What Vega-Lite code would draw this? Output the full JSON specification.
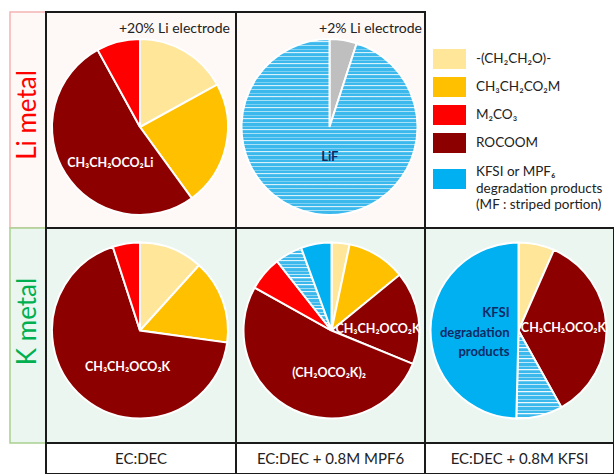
{
  "$schema": "https://vega.github.io/schema/vega-lite/v6.json",
  "padding": {"left": 9, "top": 11, "right": 0, "bottom": 0},
  "background": "white",
  "config": {"font": "Lato", "view": {"stroke": null}, "concat": {"spacing": 0}},
  "columns": 4,
  "spacing": 0,
  "bounds": "flush",
  "align": "each",
  "concat": [
        {
          "width": 36, "height": 216,
          "view": {"fill": "#FEF8F7", "stroke": "#F4B4B4", "strokeWidth": 1.5},
          "data": {"values": [{"row": "Li metal"}]},
          "mark": {"type": "text", "angle": 270, "fontSize": 26, "color": "#FF0000", "yOffset": -5},
          "encoding": {"text": {"field": "row", "type": "nominal"}}
        },
        {
          "width": 190, "height": 216,
          "view": {"fill": "#FEF8F7", "stroke": "#1a1a1a", "strokeWidth": 2},
          "title": {"text": "+20% Li electrode", "anchor": "end", "offset": -24, "dx": -6, "fontSize": 14, "fontWeight": "normal", "color": "#222222"},
          "data": {"values": [
            {"species": "-(CH₂CH₂O)-", "share": 17, "idx": 1, "mf": false, "label": ""},
            {"species": "CH₃CH₂CO₂M", "share": 23, "idx": 2, "mf": false, "label": ""},
            {"species": "ROCOOM", "share": 52, "idx": 3, "mf": false, "label": "CH₃CH₂OCO₂Li"},
            {"species": "M₂CO₃", "share": 8, "idx": 4, "mf": false, "label": ""}
          ]},
          "encoding": {
            "theta": {"field": "share", "type": "quantitative", "stack": true},
            "order": {"field": "idx", "type": "quantitative"}
          },
          "layer": [
            {
              "mark": {"type": "arc", "radius": 88, "stroke": "white", "strokeWidth": 2, "yOffset": 7, "xOffset": -1},
              "encoding": {"color": {"field": "species", "type": "nominal", "legend": null,
                "scale": {"domain": ["-(CH₂CH₂O)-", "CH₃CH₂CO₂M", "M₂CO₃", "ROCOOM", "KFSI or MPF₆ degradation products", "other"], "range": ["#FFE699", "#FFC000", "#FF0000", "#8C0000", "#00B0F0", "#BFBFBF"]}}}
            },
            {
              "mark": {"type": "text", "radius": 47, "yOffset": 7, "xOffset": -1, "dx": 10, "dy": 11, "fontWeight": "bold", "fontSize": 12.5, "color": "white"},
              "encoding": {"text": {"field": "label", "type": "nominal"}}
            }
          ]
        },
        {
          "width": 189, "height": 216,
          "view": {"fill": "#FEF8F7", "stroke": "#1a1a1a", "strokeWidth": 2},
          "title": {"text": "+2% Li electrode", "anchor": "end", "offset": -24, "dx": -3, "fontSize": 14, "fontWeight": "normal", "color": "#222222"},
          "data": {"values": [
            {"species": "other", "share": 5, "idx": 1, "mf": false, "label": ""},
            {"species": "KFSI or MPF₆ degradation products", "share": 95, "idx": 2, "mf": true, "label": "LiF"}
          ]},
          "encoding": {
            "theta": {"field": "share", "type": "quantitative", "stack": true},
            "order": {"field": "idx", "type": "quantitative"}
          },
          "layer": [
            {
              "mark": {"type": "arc", "radius": 88, "stroke": "white", "strokeWidth": 2, "yOffset": 7, "xOffset": -1},
              "encoding": {"color": {
                "condition": {"test": "datum.mf", "value": {"gradient": "linear", "x1": 0, "y1": 0, "x2": 0, "y2": 1, "stops": [
                  {"offset": 0, "color": "#3CB9EC"}, {"offset": 0.0125, "color": "#3CB9EC"}, {"offset": 0.0125, "color": "#FFFFFF"},
                  {"offset": 0.0208, "color": "#3CB9EC"}, {"offset": 0.0333, "color": "#3CB9EC"}, {"offset": 0.0333, "color": "#FFFFFF"},
                  {"offset": 0.0417, "color": "#3CB9EC"}, {"offset": 0.0542, "color": "#3CB9EC"}, {"offset": 0.0542, "color": "#FFFFFF"},
                  {"offset": 0.0625, "color": "#3CB9EC"}, {"offset": 0.075, "color": "#3CB9EC"}, {"offset": 0.075, "color": "#FFFFFF"},
                  {"offset": 0.0833, "color": "#3CB9EC"}, {"offset": 0.0958, "color": "#3CB9EC"}, {"offset": 0.0958, "color": "#FFFFFF"},
                  {"offset": 0.1042, "color": "#3CB9EC"}, {"offset": 0.1167, "color": "#3CB9EC"}, {"offset": 0.1167, "color": "#FFFFFF"},
                  {"offset": 0.125, "color": "#3CB9EC"}, {"offset": 0.1375, "color": "#3CB9EC"}, {"offset": 0.1375, "color": "#FFFFFF"},
                  {"offset": 0.1458, "color": "#3CB9EC"}, {"offset": 0.1583, "color": "#3CB9EC"}, {"offset": 0.1583, "color": "#FFFFFF"},
                  {"offset": 0.1667, "color": "#3CB9EC"}, {"offset": 0.1792, "color": "#3CB9EC"}, {"offset": 0.1792, "color": "#FFFFFF"},
                  {"offset": 0.1875, "color": "#3CB9EC"}, {"offset": 0.2, "color": "#3CB9EC"}, {"offset": 0.2, "color": "#FFFFFF"},
                  {"offset": 0.2083, "color": "#3CB9EC"}, {"offset": 0.2208, "color": "#3CB9EC"}, {"offset": 0.2208, "color": "#FFFFFF"},
                  {"offset": 0.2292, "color": "#3CB9EC"}, {"offset": 0.2417, "color": "#3CB9EC"}, {"offset": 0.2417, "color": "#FFFFFF"},
                  {"offset": 0.25, "color": "#3CB9EC"}, {"offset": 0.2625, "color": "#3CB9EC"}, {"offset": 0.2625, "color": "#FFFFFF"},
                  {"offset": 0.2708, "color": "#3CB9EC"}, {"offset": 0.2833, "color": "#3CB9EC"}, {"offset": 0.2833, "color": "#FFFFFF"},
                  {"offset": 0.2917, "color": "#3CB9EC"}, {"offset": 0.3042, "color": "#3CB9EC"}, {"offset": 0.3042, "color": "#FFFFFF"},
                  {"offset": 0.3125, "color": "#3CB9EC"}, {"offset": 0.325, "color": "#3CB9EC"}, {"offset": 0.325, "color": "#FFFFFF"},
                  {"offset": 0.3333, "color": "#3CB9EC"}, {"offset": 0.3458, "color": "#3CB9EC"}, {"offset": 0.3458, "color": "#FFFFFF"},
                  {"offset": 0.3542, "color": "#3CB9EC"}, {"offset": 0.3667, "color": "#3CB9EC"}, {"offset": 0.3667, "color": "#FFFFFF"},
                  {"offset": 0.375, "color": "#3CB9EC"}, {"offset": 0.3875, "color": "#3CB9EC"}, {"offset": 0.3875, "color": "#FFFFFF"},
                  {"offset": 0.3958, "color": "#3CB9EC"}, {"offset": 0.4083, "color": "#3CB9EC"}, {"offset": 0.4083, "color": "#FFFFFF"},
                  {"offset": 0.4167, "color": "#3CB9EC"}, {"offset": 0.4292, "color": "#3CB9EC"}, {"offset": 0.4292, "color": "#FFFFFF"},
                  {"offset": 0.4375, "color": "#3CB9EC"}, {"offset": 0.45, "color": "#3CB9EC"}, {"offset": 0.45, "color": "#FFFFFF"},
                  {"offset": 0.4583, "color": "#3CB9EC"}, {"offset": 0.4708, "color": "#3CB9EC"}, {"offset": 0.4708, "color": "#FFFFFF"},
                  {"offset": 0.4792, "color": "#3CB9EC"}, {"offset": 0.4917, "color": "#3CB9EC"}, {"offset": 0.4917, "color": "#FFFFFF"},
                  {"offset": 0.5, "color": "#3CB9EC"}, {"offset": 0.5125, "color": "#3CB9EC"}, {"offset": 0.5125, "color": "#FFFFFF"},
                  {"offset": 0.5208, "color": "#3CB9EC"}, {"offset": 0.5333, "color": "#3CB9EC"}, {"offset": 0.5333, "color": "#FFFFFF"},
                  {"offset": 0.5417, "color": "#3CB9EC"}, {"offset": 0.5542, "color": "#3CB9EC"}, {"offset": 0.5542, "color": "#FFFFFF"},
                  {"offset": 0.5625, "color": "#3CB9EC"}, {"offset": 0.575, "color": "#3CB9EC"}, {"offset": 0.575, "color": "#FFFFFF"},
                  {"offset": 0.5833, "color": "#3CB9EC"}, {"offset": 0.5958, "color": "#3CB9EC"}, {"offset": 0.5958, "color": "#FFFFFF"},
                  {"offset": 0.6042, "color": "#3CB9EC"}, {"offset": 0.6167, "color": "#3CB9EC"}, {"offset": 0.6167, "color": "#FFFFFF"},
                  {"offset": 0.625, "color": "#3CB9EC"}, {"offset": 0.6375, "color": "#3CB9EC"}, {"offset": 0.6375, "color": "#FFFFFF"},
                  {"offset": 0.6458, "color": "#3CB9EC"}, {"offset": 0.6583, "color": "#3CB9EC"}, {"offset": 0.6583, "color": "#FFFFFF"},
                  {"offset": 0.6667, "color": "#3CB9EC"}, {"offset": 0.6792, "color": "#3CB9EC"}, {"offset": 0.6792, "color": "#FFFFFF"},
                  {"offset": 0.6875, "color": "#3CB9EC"}, {"offset": 0.7, "color": "#3CB9EC"}, {"offset": 0.7, "color": "#FFFFFF"},
                  {"offset": 0.7083, "color": "#3CB9EC"}, {"offset": 0.7208, "color": "#3CB9EC"}, {"offset": 0.7208, "color": "#FFFFFF"},
                  {"offset": 0.7292, "color": "#3CB9EC"}, {"offset": 0.7417, "color": "#3CB9EC"}, {"offset": 0.7417, "color": "#FFFFFF"},
                  {"offset": 0.75, "color": "#3CB9EC"}, {"offset": 0.7625, "color": "#3CB9EC"}, {"offset": 0.7625, "color": "#FFFFFF"},
                  {"offset": 0.7708, "color": "#3CB9EC"}, {"offset": 0.7833, "color": "#3CB9EC"}, {"offset": 0.7833, "color": "#FFFFFF"},
                  {"offset": 0.7917, "color": "#3CB9EC"}, {"offset": 0.8042, "color": "#3CB9EC"}, {"offset": 0.8042, "color": "#FFFFFF"},
                  {"offset": 0.8125, "color": "#3CB9EC"}, {"offset": 0.825, "color": "#3CB9EC"}, {"offset": 0.825, "color": "#FFFFFF"},
                  {"offset": 0.8333, "color": "#3CB9EC"}, {"offset": 0.8458, "color": "#3CB9EC"}, {"offset": 0.8458, "color": "#FFFFFF"},
                  {"offset": 0.8542, "color": "#3CB9EC"}, {"offset": 0.8667, "color": "#3CB9EC"}, {"offset": 0.8667, "color": "#FFFFFF"},
                  {"offset": 0.875, "color": "#3CB9EC"}, {"offset": 0.8875, "color": "#3CB9EC"}, {"offset": 0.8875, "color": "#FFFFFF"},
                  {"offset": 0.8958, "color": "#3CB9EC"}, {"offset": 0.9083, "color": "#3CB9EC"}, {"offset": 0.9083, "color": "#FFFFFF"},
                  {"offset": 0.9167, "color": "#3CB9EC"}, {"offset": 0.9292, "color": "#3CB9EC"}, {"offset": 0.9292, "color": "#FFFFFF"},
                  {"offset": 0.9375, "color": "#3CB9EC"}, {"offset": 0.95, "color": "#3CB9EC"}, {"offset": 0.95, "color": "#FFFFFF"},
                  {"offset": 0.9583, "color": "#3CB9EC"}, {"offset": 0.9708, "color": "#3CB9EC"}, {"offset": 0.9708, "color": "#FFFFFF"},
                  {"offset": 0.9792, "color": "#3CB9EC"}, {"offset": 0.9917, "color": "#3CB9EC"}, {"offset": 0.9917, "color": "#FFFFFF"}
                ]}},
                "field": "species", "type": "nominal", "legend": null,
                "scale": {"domain": ["-(CH₂CH₂O)-", "CH₃CH₂CO₂M", "M₂CO₃", "ROCOOM", "KFSI or MPF₆ degradation products", "other"], "range": ["#FFE699", "#FFC000", "#FF0000", "#8C0000", "#00B0F0", "#BFBFBF"]}}}
            },
            {
              "mark": {"type": "text", "radius": 30, "yOffset": 7, "xOffset": -1, "dx": 5, "fontWeight": "bold", "fontSize": 13, "color": "#0E2A66"},
              "encoding": {"text": {"field": "label", "type": "nominal"}}
            }
          ]
        },
        {
          "width": 189, "height": 216,
          "view": {"stroke": null},
          "data": {"values": [
            {"species": "-(CH₂CH₂O)-", "text": "-(CH₂CH₂O)-", "idx": 1},
            {"species": "CH₃CH₂CO₂M", "text": "CH₃CH₂CO₂M", "idx": 2},
            {"species": "M₂CO₃", "text": "M₂CO₃", "idx": 3},
            {"species": "ROCOOM", "text": "ROCOOM", "idx": 4},
            {"species": "KFSI or MPF₆ degradation products", "text": "KFSI or MPF₆|degradation products|(MF : striped portion)", "idx": 5}
          ]},
          "encoding": {
            "y": {"field": "species", "type": "nominal", "axis": null,
              "scale": {"domain": ["-(CH₂CH₂O)-", "CH₃CH₂CO₂M", "M₂CO₃", "ROCOOM", "KFSI or MPF₆ degradation products"], "range": [47, 159], "padding": 0}}
          },
          "layer": [
            {
              "transform": [{"filter": "datum.idx < 5"}],
              "mark": {"type": "point", "shape": "M-1.65,-1H1.65V1H-1.65Z", "size": 400, "filled": true, "opacity": 1, "x": 24.5},
              "encoding": {"color": {"field": "species", "type": "nominal", "legend": null,
                "scale": {"domain": ["-(CH₂CH₂O)-", "CH₃CH₂CO₂M", "M₂CO₃", "ROCOOM", "KFSI or MPF₆ degradation products", "other"], "range": ["#FFE699", "#FFC000", "#FF0000", "#8C0000", "#00B0F0", "#BFBFBF"]}}}
            },
            {
              "transform": [{"filter": "datum.idx == 5"}],
              "mark": {"type": "point", "shape": "M-1.65,-1H1.65V1H-1.65Z", "size": 400, "filled": true, "opacity": 1, "x": 24.5, "yOffset": 8},
              "encoding": {"color": {"field": "species", "type": "nominal", "legend": null,
                "scale": {"domain": ["-(CH₂CH₂O)-", "CH₃CH₂CO₂M", "M₂CO₃", "ROCOOM", "KFSI or MPF₆ degradation products", "other"], "range": ["#FFE699", "#FFC000", "#FF0000", "#8C0000", "#00B0F0", "#BFBFBF"]}}}
            },
            {
              "transform": [{"filter": "datum.idx < 5"}],
              "mark": {"type": "text", "align": "left", "x": 51, "fontSize": 13.5, "color": "#222222"},
              "encoding": {"text": {"field": "text", "type": "nominal"}}
            },
            {
              "transform": [{"filter": "datum.idx == 5"}],
              "mark": {"type": "text", "align": "left", "x": 51, "fontSize": 13.5, "color": "#222222", "lineBreak": "|", "lineHeight": 16.5, "yOffset": 1},
              "encoding": {"text": {"field": "text", "type": "nominal"}}
            }
          ]
        },
        {
          "width": 36, "height": 215,
          "view": {"fill": "#EBF6F0", "stroke": "#A9D18E", "strokeWidth": 1.5},
          "data": {"values": [{"row": "K metal"}]},
          "mark": {"type": "text", "angle": 270, "fontSize": 26, "color": "#00B050", "yOffset": -14},
          "encoding": {"text": {"field": "row", "type": "nominal"}}
        },
        {
          "width": 190, "height": 215,
          "view": {"fill": "#EBF6F0", "stroke": "#1a1a1a", "strokeWidth": 2},
          "data": {"values": [
            {"species": "-(CH₂CH₂O)-", "share": 11.7, "idx": 1, "mf": false, "label": ""},
            {"species": "CH₃CH₂CO₂M", "share": 15.5, "idx": 2, "mf": false, "label": ""},
            {"species": "ROCOOM", "share": 67.8, "idx": 3, "mf": false, "label": "CH₃CH₂OCO₂K"},
            {"species": "M₂CO₃", "share": 5, "idx": 4, "mf": false, "label": ""}
          ]},
          "encoding": {
            "theta": {"field": "share", "type": "quantitative", "stack": true},
            "order": {"field": "idx", "type": "quantitative"}
          },
          "layer": [
            {
              "mark": {"type": "arc", "radius": 88, "stroke": "white", "strokeWidth": 2, "yOffset": -5, "xOffset": -1},
              "encoding": {"color": {"field": "species", "type": "nominal", "legend": null,
                "scale": {"domain": ["-(CH₂CH₂O)-", "CH₃CH₂CO₂M", "M₂CO₃", "ROCOOM", "KFSI or MPF₆ degradation products", "other"], "range": ["#FFE699", "#FFC000", "#FF0000", "#8C0000", "#00B0F0", "#BFBFBF"]}}}
            },
            {
              "mark": {"type": "text", "radius": 38, "yOffset": -5, "xOffset": -1, "dx": 12, "dy": 7, "fontWeight": "bold", "fontSize": 12.5, "color": "white"},
              "encoding": {"text": {"field": "label", "type": "nominal"}}
            }
          ]
        },
        {
          "width": 189, "height": 215,
          "view": {"fill": "#EBF6F0", "stroke": "#1a1a1a", "strokeWidth": 2},
          "data": {"values": [
            {"species": "-(CH₂CH₂O)-", "share": 3.3, "idx": 1, "mf": false, "label": ""},
            {"species": "CH₃CH₂CO₂M", "share": 10.8, "idx": 2, "mf": false, "label": ""},
            {"species": "ROCOOM", "share": 17.1, "idx": 3, "mf": false, "label": "CH₃CH₂OCO₂K"},
            {"species": "ROCOOM", "share": 51.9, "idx": 4, "mf": false, "label": "(CH₂OCO₂K)₂"},
            {"species": "M₂CO₃", "share": 6.3, "idx": 5, "mf": false, "label": ""},
            {"species": "KFSI or MPF₆ degradation products", "share": 5.0, "idx": 6, "mf": true, "label": ""},
            {"species": "KFSI or MPF₆ degradation products", "share": 5.6, "idx": 7, "mf": false, "label": ""}
          ]},
          "encoding": {
            "theta": {"field": "share", "type": "quantitative", "stack": true},
            "order": {"field": "idx", "type": "quantitative"}
          },
          "layer": [
            {
              "mark": {"type": "arc", "radius": 88, "stroke": "white", "strokeWidth": 2, "yOffset": -5, "xOffset": 1},
              "encoding": {"color": {
                "condition": {"test": "datum.mf", "value": {"gradient": "linear", "x1": 0, "y1": 0, "x2": 0, "y2": 1, "stops": [
                  {"offset": 0, "color": "#3CB9EC"}, {"offset": 0.025, "color": "#3CB9EC"}, {"offset": 0.025, "color": "#FFFFFF"},
                  {"offset": 0.0417, "color": "#3CB9EC"}, {"offset": 0.0667, "color": "#3CB9EC"}, {"offset": 0.0667, "color": "#FFFFFF"},
                  {"offset": 0.0833, "color": "#3CB9EC"}, {"offset": 0.1083, "color": "#3CB9EC"}, {"offset": 0.1083, "color": "#FFFFFF"},
                  {"offset": 0.125, "color": "#3CB9EC"}, {"offset": 0.15, "color": "#3CB9EC"}, {"offset": 0.15, "color": "#FFFFFF"},
                  {"offset": 0.1667, "color": "#3CB9EC"}, {"offset": 0.1917, "color": "#3CB9EC"}, {"offset": 0.1917, "color": "#FFFFFF"},
                  {"offset": 0.2083, "color": "#3CB9EC"}, {"offset": 0.2333, "color": "#3CB9EC"}, {"offset": 0.2333, "color": "#FFFFFF"},
                  {"offset": 0.25, "color": "#3CB9EC"}, {"offset": 0.275, "color": "#3CB9EC"}, {"offset": 0.275, "color": "#FFFFFF"},
                  {"offset": 0.2917, "color": "#3CB9EC"}, {"offset": 0.3167, "color": "#3CB9EC"}, {"offset": 0.3167, "color": "#FFFFFF"},
                  {"offset": 0.3333, "color": "#3CB9EC"}, {"offset": 0.3583, "color": "#3CB9EC"}, {"offset": 0.3583, "color": "#FFFFFF"},
                  {"offset": 0.375, "color": "#3CB9EC"}, {"offset": 0.4, "color": "#3CB9EC"}, {"offset": 0.4, "color": "#FFFFFF"},
                  {"offset": 0.4167, "color": "#3CB9EC"}, {"offset": 0.4417, "color": "#3CB9EC"}, {"offset": 0.4417, "color": "#FFFFFF"},
                  {"offset": 0.4583, "color": "#3CB9EC"}, {"offset": 0.4833, "color": "#3CB9EC"}, {"offset": 0.4833, "color": "#FFFFFF"},
                  {"offset": 0.5, "color": "#3CB9EC"}, {"offset": 0.525, "color": "#3CB9EC"}, {"offset": 0.525, "color": "#FFFFFF"},
                  {"offset": 0.5417, "color": "#3CB9EC"}, {"offset": 0.5667, "color": "#3CB9EC"}, {"offset": 0.5667, "color": "#FFFFFF"},
                  {"offset": 0.5833, "color": "#3CB9EC"}, {"offset": 0.6083, "color": "#3CB9EC"}, {"offset": 0.6083, "color": "#FFFFFF"},
                  {"offset": 0.625, "color": "#3CB9EC"}, {"offset": 0.65, "color": "#3CB9EC"}, {"offset": 0.65, "color": "#FFFFFF"},
                  {"offset": 0.6667, "color": "#3CB9EC"}, {"offset": 0.6917, "color": "#3CB9EC"}, {"offset": 0.6917, "color": "#FFFFFF"},
                  {"offset": 0.7083, "color": "#3CB9EC"}, {"offset": 0.7333, "color": "#3CB9EC"}, {"offset": 0.7333, "color": "#FFFFFF"},
                  {"offset": 0.75, "color": "#3CB9EC"}, {"offset": 0.775, "color": "#3CB9EC"}, {"offset": 0.775, "color": "#FFFFFF"},
                  {"offset": 0.7917, "color": "#3CB9EC"}, {"offset": 0.8167, "color": "#3CB9EC"}, {"offset": 0.8167, "color": "#FFFFFF"},
                  {"offset": 0.8333, "color": "#3CB9EC"}, {"offset": 0.8583, "color": "#3CB9EC"}, {"offset": 0.8583, "color": "#FFFFFF"},
                  {"offset": 0.875, "color": "#3CB9EC"}, {"offset": 0.9, "color": "#3CB9EC"}, {"offset": 0.9, "color": "#FFFFFF"},
                  {"offset": 0.9167, "color": "#3CB9EC"}, {"offset": 0.9417, "color": "#3CB9EC"}, {"offset": 0.9417, "color": "#FFFFFF"},
                  {"offset": 0.9583, "color": "#3CB9EC"}, {"offset": 0.9833, "color": "#3CB9EC"}, {"offset": 0.9833, "color": "#FFFFFF"}
                ]}},
                "field": "species", "type": "nominal", "legend": null,
                "scale": {"domain": ["-(CH₂CH₂O)-", "CH₃CH₂CO₂M", "M₂CO₃", "ROCOOM", "KFSI or MPF₆ degradation products", "other"], "range": ["#FFE699", "#FFC000", "#FF0000", "#8C0000", "#00B0F0", "#BFBFBF"]}}}
            },
            {
              "mark": {"type": "text", "radius": 47, "yOffset": -5, "xOffset": 1, "dy": 5, "fontWeight": "bold", "fontSize": 12.5, "color": "white"},
              "encoding": {"text": {"condition": {"test": "datum.idx == 3", "field": "label", "type": "nominal"}, "value": ""}}
            },
            {
              "mark": {"type": "text", "radius": 47, "yOffset": -5, "xOffset": 1, "dx": 18, "fontWeight": "bold", "fontSize": 12.5, "color": "white"},
              "encoding": {"text": {"condition": {"test": "datum.idx == 4", "field": "label", "type": "nominal"}, "value": ""}}
            }
          ]
        },
        {
          "width": 189, "height": 215,
          "view": {"fill": "#EBF6F0", "stroke": "#1a1a1a", "strokeWidth": 2},
          "data": {"values": [
            {"species": "-(CH₂CH₂O)-", "share": 6.6, "idx": 1, "mf": false, "label": ""},
            {"species": "ROCOOM", "share": 35.3, "idx": 2, "mf": false, "label": "CH₃CH₂OCO₂K"},
            {"species": "KFSI or MPF₆ degradation products", "share": 8.5, "idx": 3, "mf": true, "label": ""},
            {"species": "KFSI or MPF₆ degradation products", "share": 49.6, "idx": 4, "mf": false, "label": "KFSI|degradation|products"}
          ]},
          "encoding": {
            "theta": {"field": "share", "type": "quantitative", "stack": true},
            "order": {"field": "idx", "type": "quantitative"}
          },
          "layer": [
            {
              "mark": {"type": "arc", "radius": 88, "stroke": "white", "strokeWidth": 2, "yOffset": -5, "xOffset": -1},
              "encoding": {"color": {
                "condition": {"test": "datum.mf", "value": {"gradient": "linear", "x1": 0, "y1": 0, "x2": 0, "y2": 1, "stops": [
                  {"offset": 0, "color": "#3CB9EC"}, {"offset": 0.025, "color": "#3CB9EC"}, {"offset": 0.025, "color": "#FFFFFF"},
                  {"offset": 0.0417, "color": "#3CB9EC"}, {"offset": 0.0667, "color": "#3CB9EC"}, {"offset": 0.0667, "color": "#FFFFFF"},
                  {"offset": 0.0833, "color": "#3CB9EC"}, {"offset": 0.1083, "color": "#3CB9EC"}, {"offset": 0.1083, "color": "#FFFFFF"},
                  {"offset": 0.125, "color": "#3CB9EC"}, {"offset": 0.15, "color": "#3CB9EC"}, {"offset": 0.15, "color": "#FFFFFF"},
                  {"offset": 0.1667, "color": "#3CB9EC"}, {"offset": 0.1917, "color": "#3CB9EC"}, {"offset": 0.1917, "color": "#FFFFFF"},
                  {"offset": 0.2083, "color": "#3CB9EC"}, {"offset": 0.2333, "color": "#3CB9EC"}, {"offset": 0.2333, "color": "#FFFFFF"},
                  {"offset": 0.25, "color": "#3CB9EC"}, {"offset": 0.275, "color": "#3CB9EC"}, {"offset": 0.275, "color": "#FFFFFF"},
                  {"offset": 0.2917, "color": "#3CB9EC"}, {"offset": 0.3167, "color": "#3CB9EC"}, {"offset": 0.3167, "color": "#FFFFFF"},
                  {"offset": 0.3333, "color": "#3CB9EC"}, {"offset": 0.3583, "color": "#3CB9EC"}, {"offset": 0.3583, "color": "#FFFFFF"},
                  {"offset": 0.375, "color": "#3CB9EC"}, {"offset": 0.4, "color": "#3CB9EC"}, {"offset": 0.4, "color": "#FFFFFF"},
                  {"offset": 0.4167, "color": "#3CB9EC"}, {"offset": 0.4417, "color": "#3CB9EC"}, {"offset": 0.4417, "color": "#FFFFFF"},
                  {"offset": 0.4583, "color": "#3CB9EC"}, {"offset": 0.4833, "color": "#3CB9EC"}, {"offset": 0.4833, "color": "#FFFFFF"},
                  {"offset": 0.5, "color": "#3CB9EC"}, {"offset": 0.525, "color": "#3CB9EC"}, {"offset": 0.525, "color": "#FFFFFF"},
                  {"offset": 0.5417, "color": "#3CB9EC"}, {"offset": 0.5667, "color": "#3CB9EC"}, {"offset": 0.5667, "color": "#FFFFFF"},
                  {"offset": 0.5833, "color": "#3CB9EC"}, {"offset": 0.6083, "color": "#3CB9EC"}, {"offset": 0.6083, "color": "#FFFFFF"},
                  {"offset": 0.625, "color": "#3CB9EC"}, {"offset": 0.65, "color": "#3CB9EC"}, {"offset": 0.65, "color": "#FFFFFF"},
                  {"offset": 0.6667, "color": "#3CB9EC"}, {"offset": 0.6917, "color": "#3CB9EC"}, {"offset": 0.6917, "color": "#FFFFFF"},
                  {"offset": 0.7083, "color": "#3CB9EC"}, {"offset": 0.7333, "color": "#3CB9EC"}, {"offset": 0.7333, "color": "#FFFFFF"},
                  {"offset": 0.75, "color": "#3CB9EC"}, {"offset": 0.775, "color": "#3CB9EC"}, {"offset": 0.775, "color": "#FFFFFF"},
                  {"offset": 0.7917, "color": "#3CB9EC"}, {"offset": 0.8167, "color": "#3CB9EC"}, {"offset": 0.8167, "color": "#FFFFFF"},
                  {"offset": 0.8333, "color": "#3CB9EC"}, {"offset": 0.8583, "color": "#3CB9EC"}, {"offset": 0.8583, "color": "#FFFFFF"},
                  {"offset": 0.875, "color": "#3CB9EC"}, {"offset": 0.9, "color": "#3CB9EC"}, {"offset": 0.9, "color": "#FFFFFF"},
                  {"offset": 0.9167, "color": "#3CB9EC"}, {"offset": 0.9417, "color": "#3CB9EC"}, {"offset": 0.9417, "color": "#FFFFFF"},
                  {"offset": 0.9583, "color": "#3CB9EC"}, {"offset": 0.9833, "color": "#3CB9EC"}, {"offset": 0.9833, "color": "#FFFFFF"}
                ]}},
                "field": "species", "type": "nominal", "legend": null,
                "scale": {"domain": ["-(CH₂CH₂O)-", "CH₃CH₂CO₂M", "M₂CO₃", "ROCOOM", "KFSI or MPF₆ degradation products", "other"], "range": ["#FFE699", "#FFC000", "#FF0000", "#8C0000", "#00B0F0", "#BFBFBF"]}}}
            },
            {
              "mark": {"type": "text", "radius": 45, "yOffset": -5, "xOffset": -1, "dx": 0, "fontWeight": "bold", "fontSize": 12.5, "color": "white"},
              "encoding": {"text": {"condition": {"test": "datum.idx == 2", "field": "label", "type": "nominal"}, "value": ""}}
            },
            {
              "mark": {"type": "text", "radius": 9, "yOffset": -5, "xOffset": -1, "dy": -17, "align": "right", "lineBreak": "|", "lineHeight": 19.5, "fontWeight": "bold", "fontSize": 13, "color": "#0E2A66"},
              "encoding": {"text": {"condition": {"test": "datum.idx == 4", "field": "label", "type": "nominal"}, "value": ""}}
            }
          ]
        },
        {
          "width": 36, "height": 31,
          "view": {"stroke": null},
          "data": {"values": [{"blank": ""}]},
          "mark": {"type": "text"},
          "encoding": {"text": {"field": "blank", "type": "nominal"}}
        },
        {
          "width": 190, "height": 31,
          "view": {"fill": "white", "stroke": "#1a1a1a", "strokeWidth": 2},
          "data": {"values": [{"electrolyte": "EC:DEC"}]},
          "mark": {"type": "text", "fontSize": 15, "color": "#222222"},
          "encoding": {"text": {"field": "electrolyte", "type": "nominal"}}
        },
        {
          "width": 189, "height": 31,
          "view": {"fill": "white", "stroke": "#1a1a1a", "strokeWidth": 2},
          "data": {"values": [{"electrolyte": "EC:DEC + 0.8M MPF6"}]},
          "mark": {"type": "text", "fontSize": 15, "color": "#222222"},
          "encoding": {"text": {"field": "electrolyte", "type": "nominal"}}
        },
        {
          "width": 189, "height": 31,
          "view": {"fill": "white", "stroke": "#1a1a1a", "strokeWidth": 2},
          "data": {"values": [{"electrolyte": "EC:DEC + 0.8M KFSI"}]},
          "mark": {"type": "text", "fontSize": 15, "color": "#222222"},
          "encoding": {"text": {"field": "electrolyte", "type": "nominal"}}
        }
  ]
}
